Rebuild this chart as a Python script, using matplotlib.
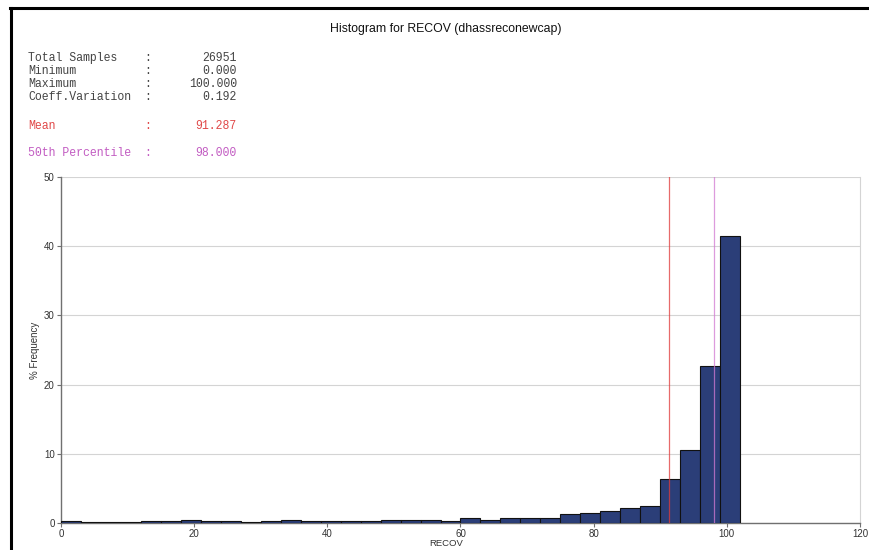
import numpy as np
import matplotlib
matplotlib.use("Agg")
import matplotlib.pyplot as plt
from matplotlib.lines import Line2D

# bins of width 3 from 0 to 102, % frequency
bin_width = 3
bin_starts = np.arange(0, 102, bin_width)
freq = [0.30, 0.20, 0.10, 0.15, 0.35, 0.25, 0.45, 0.35, 0.25, 0.15,
        0.35, 0.45, 0.35, 0.35, 0.30, 0.30, 0.40, 0.40, 0.40, 0.30,
        0.70, 0.50, 0.70, 0.70, 0.70, 1.30, 1.45, 1.70, 2.20, 2.45,
        6.40, 10.60, 22.70, 41.50]

stat_labels = ["Total Samples", "Minimum", "Maximum", "Coeff.Variation"]
stat_values = ["26951", "0.000", "100.000", "0.192"]
mean_val = 91.287
median_val = 98.0

W, H = 870, 550
fig = plt.figure(figsize=(W / 100, H / 100), dpi=100)
fig.patch.set_facecolor("white")

def fx(px):
    return px / W

def fy(py):
    return 1 - py / H

ax = fig.add_axes([fx(61), fy(523), fx(860) - fx(61), fy(177) - fy(523)])

ax.bar(bin_starts, freq, width=bin_width, align="edge",
       color="#2b3e78", edgecolor="#111111", linewidth=0.8, zorder=3)

ax.axvline(mean_val, color="#e03a3a", linewidth=0.9, alpha=0.75, zorder=4)
ax.axvline(median_val, color="#d27ad2", linewidth=0.9, alpha=0.75, zorder=4)

ax.set_xlim(0, 120)
ax.set_ylim(0, 50)
ax.set_xticks(range(0, 121, 20))
ax.set_yticks(range(0, 51, 10))
ax.yaxis.grid(True, color="#d4d4d4", linewidth=0.8, zorder=0)
ax.set_axisbelow(True)

ax.spines["top"].set_visible(False)
ax.spines["right"].set_color("#d4d4d4")
ax.spines["right"].set_linewidth(0.8)
ax.spines["left"].set_color("#707070")
ax.spines["bottom"].set_color("#707070")
ax.spines["left"].set_linewidth(1.0)
ax.spines["bottom"].set_linewidth(1.0)

ax.tick_params(axis="both", direction="out", length=3, width=0.8,
               color="#707070", labelsize=7, labelcolor="#333333", pad=1.5)
for lab in ax.get_xticklabels() + ax.get_yticklabels():
    lab.set_family("Liberation Sans")

ax.set_ylabel("% Frequency", fontsize=7, color="#333333", family="Liberation Sans", labelpad=3)
fig.text(fx(446), fy(548), "RECOV", ha="center", va="bottom",
         fontsize=6.8, color="#333333", family="Liberation Sans")

fig.text(fx(446), fy(29), "Histogram for RECOV (dhassreconewcap)",
         ha="center", va="center", fontsize=8.8, family="Liberation Sans", color="#111111")

mono = "Liberation Mono"
fs = 8.3
ys = [58, 71, 84, 97]
for lab, val, y in zip(stat_labels, stat_values, ys):
    fig.text(fx(28), fy(y), lab, ha="left", va="center", fontsize=fs, family=mono, color="#444444")
    fig.text(fx(148), fy(y), ":", ha="center", va="center", fontsize=fs, family=mono, color="#444444")
    fig.text(fx(237), fy(y), val, ha="right", va="center", fontsize=fs, family=mono, color="#444444")

for lab, val, y, col in [("Mean", f"{mean_val:.3f}", 126, "#e04848"),
                         ("50th Percentile", f"{median_val:.3f}", 153, "#c25cc2")]:
    fig.text(fx(28), fy(y), lab, ha="left", va="center", fontsize=fs, family=mono, color=col)
    fig.text(fx(148), fy(y), ":", ha="center", va="center", fontsize=fs, family=mono, color=col)
    fig.text(fx(237), fy(y), val, ha="right", va="center", fontsize=fs, family=mono, color=col)

# black frame on left and top
fig.add_artist(Line2D([fx(11), fx(11)], [0, fy(8)], color="black", linewidth=2.2))
fig.add_artist(Line2D([fx(10), 1], [fy(8), fy(8)], color="black", linewidth=2.2))

fig.savefig("out.png", dpi=100)
